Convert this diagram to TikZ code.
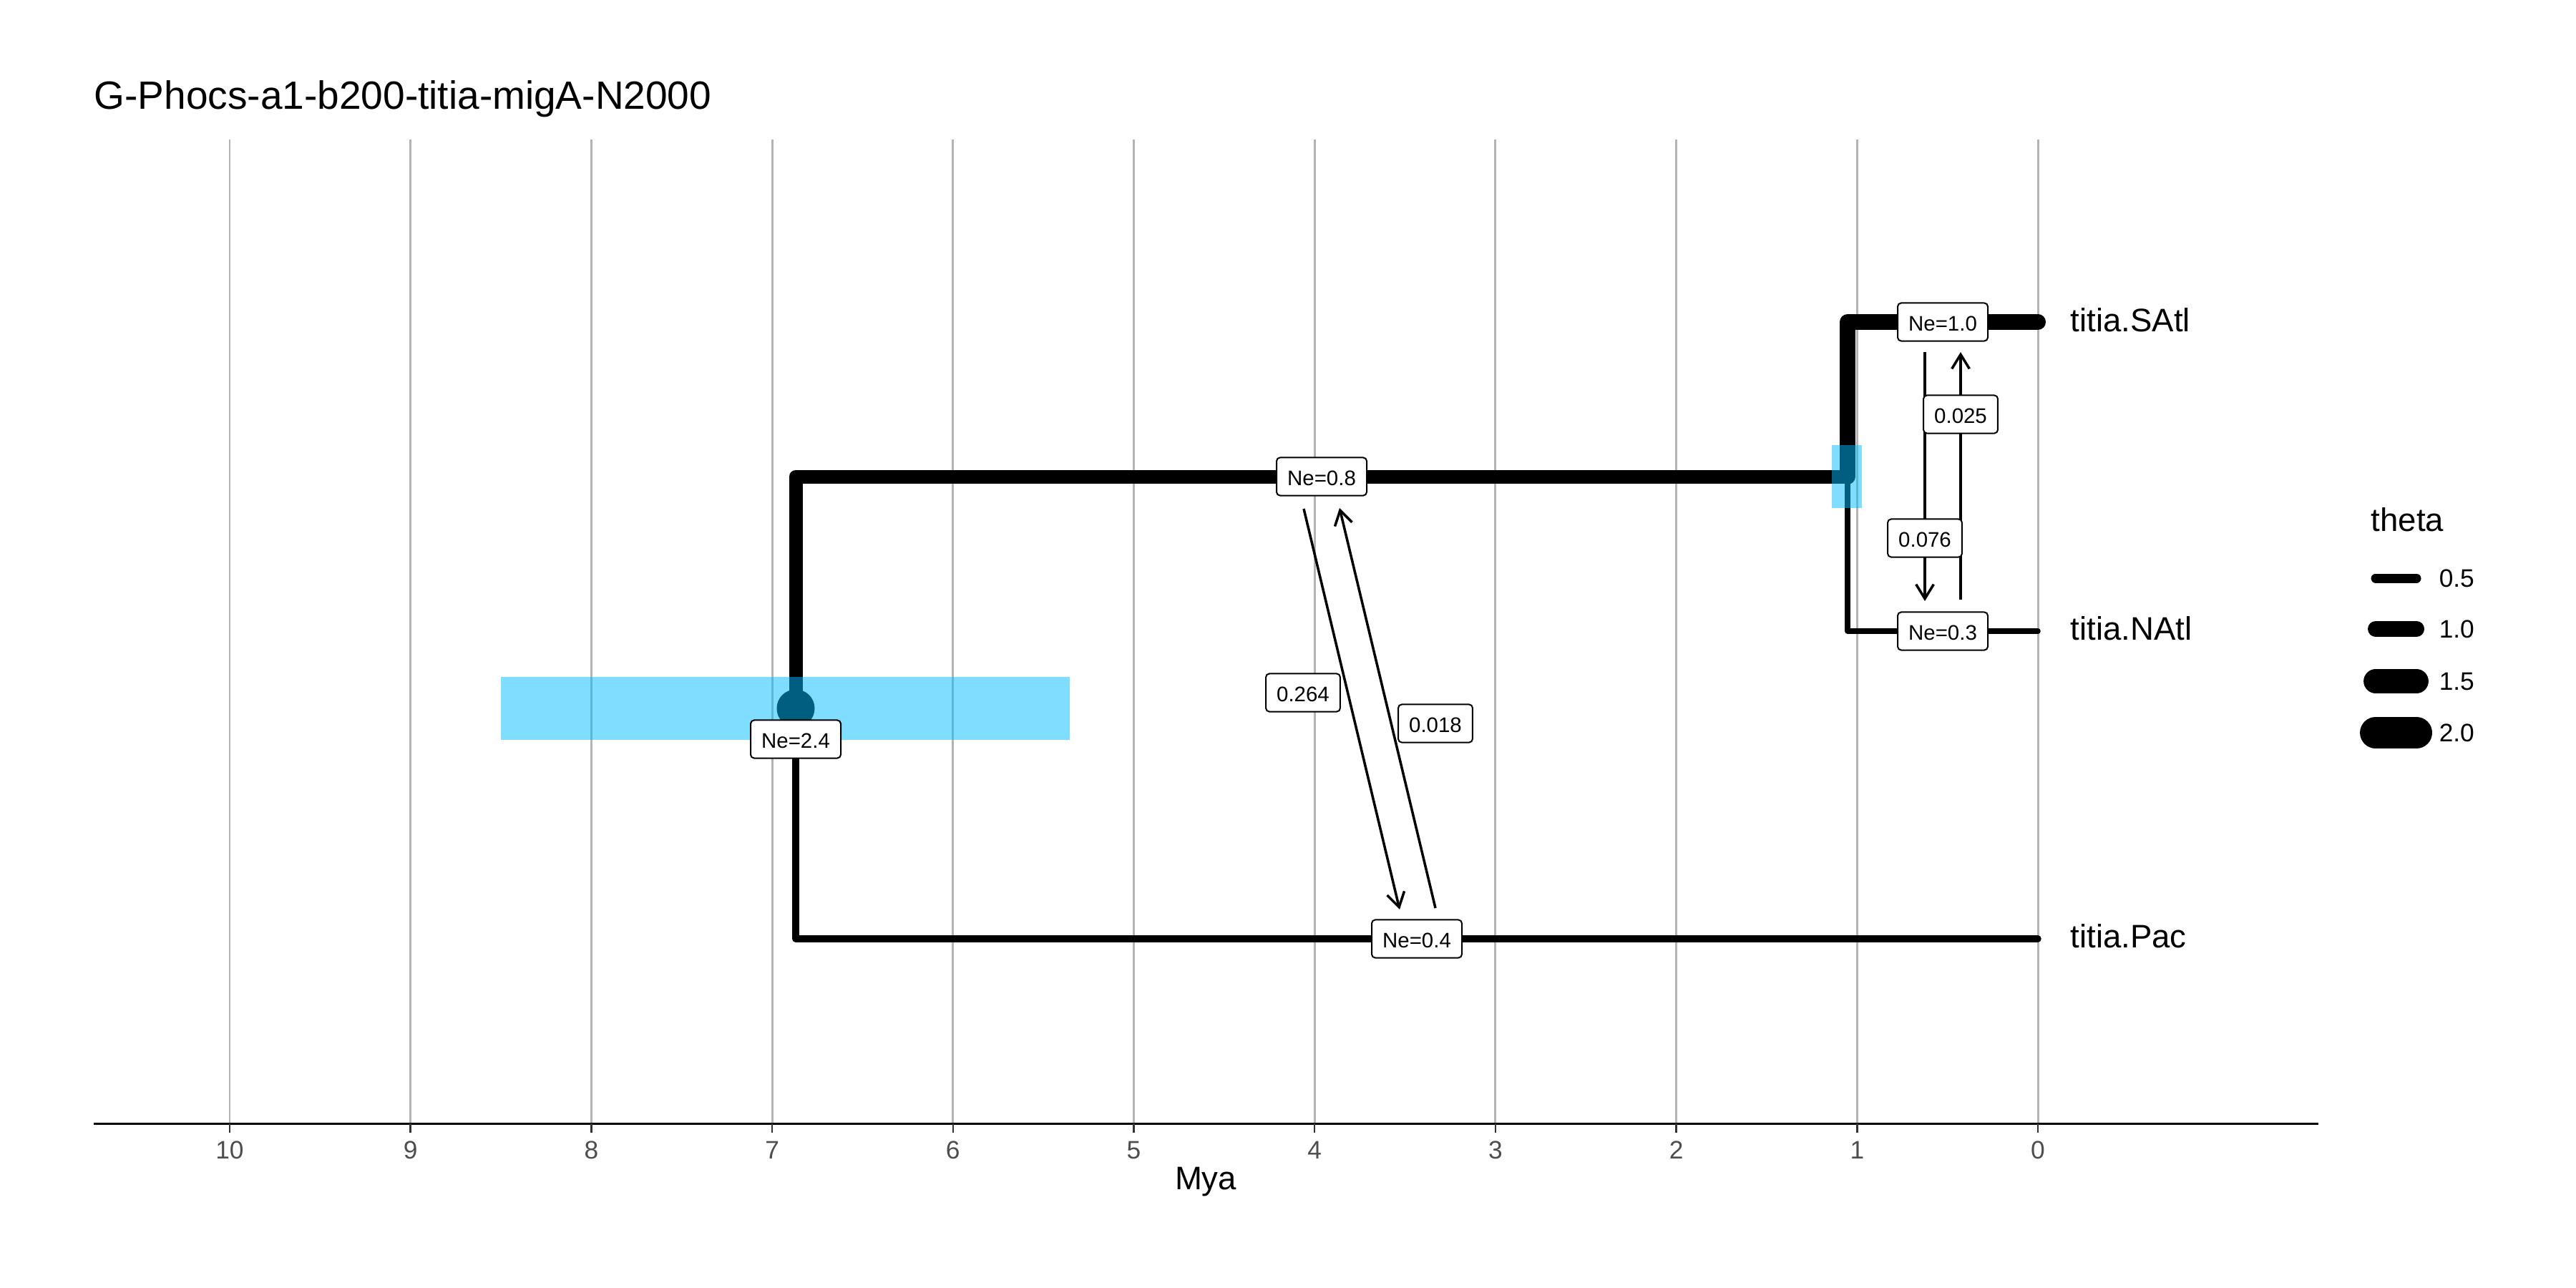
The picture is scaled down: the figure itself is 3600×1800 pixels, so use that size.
\documentclass[tikz,border=0pt]{standalone}
\usepackage{fontspec}
\setmainfont{Liberation Sans}
\usetikzlibrary{arrows.meta}
\definecolor{bandblue}{RGB}{0,190,255}
\definecolor{gridgray}{RGB}{179,179,179}
\definecolor{tickgray}{RGB}{51,51,51}
\definecolor{ticktext}{RGB}{77,77,77}
\newcommand{\fTitle}{\fontsize{15.65pt}{18pt}\selectfont}
\newcommand{\fTip}{\fontsize{12.95pt}{15pt}\selectfont}
\newcommand{\fLeg}{\fontsize{10.05pt}{12pt}\selectfont}
\newcommand{\fNe}{\fontsize{8.37pt}{10pt}\selectfont}
\begin{document}
\begin{tikzpicture}[x=0.01cm,y=-0.01cm,
  gridln/.style={draw=gridgray,line width=0.85pt},
  tickln/.style={draw=tickgray,line width=0.7pt},
  branch/.style={line cap=round,line join=round},
  nebox/.style={draw,fill=white,line width=0.57pt,rounded corners=1.4pt,font=\fNe,
    inner xsep=4.3pt,inner ysep=0pt,minimum height=15.1pt,text height=0.72em,text depth=0pt},
  mig/.style={line width=1pt,-{Straight Barb[length=5.7pt,width=7pt]}},
  tiplbl/.style={anchor=west,font=\fTip,text height=0.72em,text depth=0pt,inner sep=0pt},
  ticklbl/.style={font=\fLeg,text=ticktext,text height=0.72em,text depth=0pt,inner sep=0pt},
  leglbl/.style={anchor=west,font=\fLeg,text height=0.72em,text depth=0pt,inner sep=0pt},
  band/.style={fill=bandblue,opacity=0.5},
  legkey/.style={line cap=round}
]
\fill[white] (0,0) rectangle (3600,1800);
\useasboundingbox (0,0) rectangle (3600,1800);

% title
\node[anchor=west,font=\fTitle,text height=0.72em,text depth=0pt,inner sep=0pt] (title) at (131,140) {G-Phocs-a1-b200-titia-migA-N2000};

% grid lines
\foreach \t in {0,...,10} {
  \draw[gridln] ({2848-252.7*\t},195) -- ({2848-252.7*\t},1570);
}
% axis
\coordinate (axL) at (131,1570);
\coordinate (axR) at (3240,1570);
\draw[line width=0.85pt] (axL) -- (axR);
\foreach \t in {0,...,10} {
  \draw[tickln] ({2848-252.7*\t},1570) -- ({2848-252.7*\t},1583);
  \node[ticklbl] (tick\t) at ({2848-252.7*\t},1607) {\t};
}
\node[font=\fTip,text height=0.72em,text depth=0pt,inner sep=0pt] (xlab) at (1685,1650) {Mya};

% tree
\coordinate (root) at (1112,990);
\coordinate (nA) at (2582,666);
\coordinate (sat) at (2848,450);
\coordinate (nat) at (2848,882);
\coordinate (pac) at (2848,1312);
\draw[branch,line width=2.65pt] (root) |- (pac);
\draw[branch,line width=2.13pt] (nA) |- (nat);
\draw[branch,line width=5.4pt] (root) |- (nA);
\draw[branch,line width=6.26pt] (nA) |- (sat);
\fill (root) circle[radius=7.54pt];

% confidence bands
\fill[band] (700,946) rectangle (1495,1034);
\fill[band] (2560,622) rectangle (2602,710);

% migration arrows
\coordinate (m1s) at (1822,711);
\coordinate (m1e) at (1956,1271);
\coordinate (m2s) at (2006,1269);
\coordinate (m2e) at (1872,710);
\coordinate (m3s) at (2690,492);
\coordinate (m3e) at (2690,840);
\coordinate (m4s) at (2740,838);
\coordinate (m4e) at (2740,492);
\draw[mig] (m1s) -- (m1e);
\draw[mig] (m2s) -- (m2e);
\draw[mig] (m3s) -- (m3e);
\draw[mig] (m4s) -- (m4e);
\node[nebox] (l264) at (1821,968) {0.264};
\node[nebox] (l018) at (2006,1011) {0.018};
\node[nebox] (l076) at (2690,752) {0.076};
\node[nebox] (l025) at (2740,579) {0.025};

% Ne labels
\node[nebox] (ne08) at (1847,666) {Ne=0.8};
\node[nebox] (ne04) at (1980,1312) {Ne=0.4};
\node[nebox] (ne10) at (2715,450) {Ne=1.0};
\node[nebox] (ne03) at (2715,882) {Ne=0.3};
\node[nebox] (ne24) at (1112,1033) {Ne=2.4};

% tip labels
\node[tiplbl] (tS) at (2893,451) {titia.SAtl};
\node[tiplbl] (tN) at (2893,882) {titia.NAtl};
\node[tiplbl] (tP) at (2893,1312) {titia.Pac};

% legend
\node[tiplbl] (legt) at (3313,730) {theta};
\draw[legkey,line width=3.7pt] (3320,808) -- (3377,808);
\draw[legkey,line width=6.26pt] (3320,879) -- (3377,879);
\draw[legkey,line width=9.6pt] (3320,952) -- (3377,952);
\draw[legkey,line width=12.5pt] (3320,1024) -- (3377,1024);
\node[leglbl] (lg1) at (3408,808) {0.5};
\node[leglbl] (lg2) at (3408,879) {1.0};
\node[leglbl] (lg3) at (3408,952) {1.5};
\node[leglbl] (lg4) at (3408,1024) {2.0};
\end{tikzpicture}
\end{document}
